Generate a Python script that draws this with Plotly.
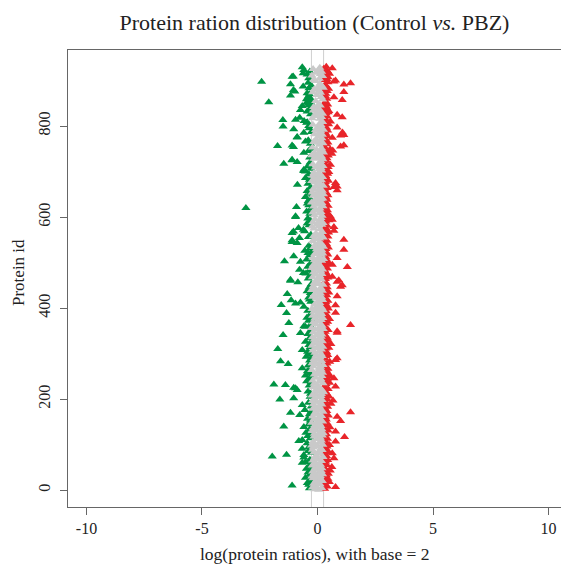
import plotly.graph_objects as go

# log2 protein ratios, protein ids 1..930 (read block by block from the reference)
log2_ratio = [
    0.05, -0.12, 0.31, -0.35, 0.18, -0.22, 0.78, 0.42, -0.08, -1.10, 0.36, -0.38, 0.11, -0.17, 0.29, -0.44, 0.02, 0.51, -0.29, 0.21, -0.06, 0.33, -0.31, 0.14, 0.45, -0.19, -0.52, 0.27, 0.09, -0.24,
    0.12, -0.07, 0.38, -0.33, 0.22, 0.47, -0.15, 0.04, -0.41, 0.30, -0.21, 0.16, 0.55, -0.28, -0.02, 0.34, -0.48, 0.19, -0.10, 0.28, 0.62, -0.36, 0.07, -0.23, 0.40, 0.13, -0.30, -0.14, 0.32, -0.66,
    -0.09, -0.52, 0.35, 0.17, -0.20, 0.44, -0.33, 0.03, 0.29, 0.71, -0.13, -0.59, 0.24, -1.96, 0.39, -0.05, -0.59, -1.34, 0.31, 0.10, 0.64, -0.27, -0.16, 0.48, 0.06, -0.40, 0.36, 0.20, -0.22, 0.28,
    -0.66, 0.14, 0.33, -0.18, -0.37, 0.41, 0.01, -0.26, 0.52, 0.23, -0.11, 0.30, -0.45, 0.08, 0.37, -0.20, 0.78, -0.81, 0.17, -0.66, 0.29, -0.04, 0.43, -0.31, 0.12, 0.35, 1.17, -0.15, -0.42, 0.21,
    0.06, -0.29, 0.39, -0.14, 0.25, -0.50, 0.32, 0.11, 0.78, -0.23, 0.46, -0.07, -0.34, 0.19, 0.31, -0.19, 0.03, 0.54, -0.59, -1.46, 0.15, 0.36, -0.10, -0.38, 0.28, 0.09, 0.42, -0.25, -0.02, 0.33,
    0.22, 1.00, -0.31, 0.13, 0.38, -0.16, -0.43, 0.27, 0.05, 0.34, 0.85, -0.21, 0.18, 0.47, -0.77, 0.02, -0.35, 0.30, -0.12, -1.17, 1.43, 0.24, -0.28, 0.40, -0.05, -0.55, 0.16, 0.33, -0.20, 0.09,
    0.31, -0.10, 0.44, -0.27, 0.07, 0.36, -0.66, 0.19, -0.18, 0.58, 0.29, -0.39, 0.12, -0.03, 0.35, -0.22, 0.67, 0.20, -1.63, 0.41, -0.13, -1.03, 0.28, 0.04, -0.32, 0.50, 0.15, -0.24, 0.37, -0.08,
    0.17, -0.30, 0.39, -0.12, 0.26, 0.05, -0.41, 0.33, 0.21, -0.88, -0.06, 0.46, 0.12, -0.95, -1.03, -0.19, 0.30, 0.78, 0.01, -0.36, -1.39, -1.89, 0.37, -0.15, 0.24, 0.52, -0.28, 0.08, -0.47, 0.34,
    -0.21, 0.32, -0.37, 0.14, 0.43, 0.71, -0.08, 0.27, 0.56, -0.29, 0.19, -0.52, 0.36, -0.14, 0.03, 0.48, -0.33, 0.22, -0.02, 0.31, -0.44, 0.10, 0.39, -0.25, 0.16, -0.31, 0.45, -0.66, 0.07, 0.29,
    0.13, -0.18, 0.35, -0.40, 0.24, 0.06, -1.27, 0.41, -0.23, 0.29, -0.09, 0.53, -1.60, 0.18, -0.34, 0.78, 0.00, -0.15, 0.32, 0.85, -0.27, 0.11, -0.49, 0.37, 0.20, -0.07, 0.44, -0.30, 0.15, -0.38,
    0.27, -0.11, 0.40, -0.43, 0.08, 0.33, -0.20, -0.66, 0.17, -1.72, 0.36, -0.04, 0.49, -0.32, 0.23, 0.02, -0.24, 0.30, -0.37, 0.12, 0.58, -0.16, 0.38, 0.05, -0.28, -0.52, 0.21, 0.34, -0.09, 0.45,
    -0.14, 0.31, 0.09, -0.35, 0.42, -0.22, 0.16, 0.37, -0.06, 0.28, -1.49, 0.19, -0.41, 0.04, -0.74, 0.85, -0.18, 0.33, 0.85, 0.11, -0.30, 0.46, -0.10, 0.25, 0.39, -0.26, 0.07, 0.32, -0.52, -0.59,
    0.20, -0.33, 1.43, 0.14, -0.08, 0.36, -1.24, 0.27, -0.19, 0.44, 0.01, -0.39, 0.31, 0.16, -0.27, 0.52, -0.12, 0.23, -0.46, 0.35, 0.06, 0.29, -0.21, 0.40, -0.03, -0.31, 0.18, 0.33, -1.34, 0.78,
    0.12, -0.17, 0.38, -0.42, 0.25, 0.04, 0.30, -0.24, 0.47, -0.09, 0.19, 0.34, -0.59, 0.07, 0.41, 0.78, -1.57, -0.13, 0.28, -0.95, 0.10, -0.74, 0.36, -0.29, 0.02, 0.45, -1.14, 0.22, -0.35, 0.31,
    -0.06, 0.33, -0.38, 0.18, -0.21, 0.85, 0.09, 0.40, -0.14, 0.27, -1.31, 0.13, -0.31, 0.49, -0.02, 0.35, -0.45, 0.21, 0.05, -0.26, 0.37, -0.11, 0.29, 0.15, -0.36, 0.42, 1.00, -0.19, 0.32, 1.07,
    0.24, -0.28, 0.08, 0.39, -0.15, 0.30, -0.85, 0.85, -0.04, -1.17, 0.92, -1.17, 0.17, 0.34, -0.40, 0.03, 0.45, -0.22, 0.64, 0.11, -0.33, 0.28, -0.08, 0.41, 0.19, -0.50, -0.61, 0.36, -0.17, 0.06,
    0.14, -0.36, 0.31, -0.78, 0.22, -0.10, 0.43, -0.25, 0.05, 1.29, -0.42, 0.27, 0.12, -0.19, 0.64, 0.37, -0.07, -0.30, 0.48, 0.01, 0.33, -0.74, -1.43, 0.18, -0.14, 0.40, -0.47, 0.26, 0.09, 0.85,
    -0.20, 0.35, 0.07, -1.03, 0.29, -0.34, 0.16, 0.44, -0.12, 0.23, -0.41, 0.38, 0.02, -0.27, 0.31, -0.55, 0.19, 1.14, -0.05, 0.36, 0.11, -0.31, 0.47, -0.16, 0.26, 0.04, -0.38, 0.33, -0.09, 0.40,
    0.18, 0.34, -0.88, 0.06, -1.10, 0.29, -0.22, 0.41, -1.10, 1.14, -0.13, 0.32, 0.09, -0.78, 0.25, -0.39, 0.45, -0.18, 0.02, 0.37, -0.29, 0.14, 0.30, -0.07, -1.10, 0.48, 0.21, -1.04, -0.56, 0.71,
    0.27, -0.61, 0.11, 0.39, -0.16, -0.82, 0.33, 0.71, -0.24, 0.05, 0.42, -0.36, 0.19, -0.03, 0.30, -0.45, 0.24, 0.08, -0.20, 0.36, 0.13, -0.31, 0.50, 0.64, -0.11, 0.28, -0.42, 0.15, 0.37, -0.95,
    0.56, -0.95, 0.20, -0.14, 0.49, 0.31, -0.33, 0.07, 0.38, -0.21, 0.15, -0.47, 0.27, 0.03, 0.43, -0.09, 0.32, -0.28, 0.11, -3.10, 0.36, -0.91, -0.17, 0.24, 0.46, -0.38, 0.09, 0.30, -0.05, -0.44,
    0.19, -0.26, 0.34, 0.05, -0.40, 0.28, -0.12, 0.41, 0.16, -0.33, 0.23, -0.02, 0.37, -0.52, 0.10, 0.30, -0.19, 0.45, -0.07, 0.26, -0.36, 0.13, 0.39, -0.23, 0.06, 0.33, -0.45, 0.21, 0.85, -0.15,
    0.31, -0.18, 0.08, 0.42, -0.30, 0.71, 0.85, -0.06, 0.25, 0.37, -0.87, 0.14, -0.41, 0.29, 0.78, -0.11, 0.34, 0.02, -0.25, 0.47, 0.17, -0.35, 0.09, 0.40, -0.14, -0.52, 0.32, 0.22, -0.04, 0.36,
    -0.21, 0.27, 0.12, -0.37, 0.44, 0.03, -0.15, 0.33, 0.49, -0.52, -0.60, 0.18, 0.39, -0.59, 0.07, -0.28, 0.30, 0.15, -0.09, 0.46, -0.43, 0.24, 0.01, 0.35, 0.56, -0.20, -1.46, 0.28, 0.10, -0.32,
    -0.88, 0.32, 0.14, 0.38, -1.10, -1.10, 0.23, -0.16, 0.41, 0.06, -0.34, 0.29, 0.18, -0.08, 0.47, -0.25, 0.35, 0.02, 0.62, -0.13, -0.59, 0.26, 0.11, 0.42, -0.39, 0.66, 0.20, -0.04, 0.55, -0.29,
    0.17, 0.33, -0.22, -1.04, 1.00, -1.73, -1.10, 1.14, 0.08, 0.39, -0.31, 0.24, 0.02, 0.45, -0.17, -0.52, 0.28, 0.12, -0.40, 0.36, -0.06, 0.30, 0.19, 0.64, -0.88, -0.88, 0.05, 0.41, 1.00, 1.14,
    0.21, -0.14, 0.37, 0.06, -0.59, 1.08, -0.27, 0.31, 0.13, 0.44, -0.09, 0.26, -1.03, 0.18, -0.36, 0.39, 0.85, 0.03, -1.49, -0.38, 0.29, 0.15, -0.20, 0.48, 0.09, 0.34, -0.47, -0.44, 0.22, 0.56,
    -0.58, 0.27, -1.50, -0.95, 0.35, 0.10, -0.23, -0.77, 1.07, 0.18, 0.42, -0.11, 0.31, 0.04, 0.85, -0.30, 0.22, 0.37, -0.06, 0.46, 0.14, -0.45, 0.49, -0.18, -0.74, 0.33, 0.08, -0.34, 0.40, -0.02,
    0.29, -0.17, 0.38, -0.66, 0.12, -0.36, 0.44, 0.05, -0.42, 0.31, -0.29, -2.11, -0.45, 0.35, -0.08, -0.33, 1.07, 0.22, -0.48, 0.40, -0.31, -0.38, 0.71, 0.16, -0.40, 0.34, -1.17, -0.03, 0.27, -0.35,
    0.36, -0.45, 0.13, -0.21, 1.14, -0.98, 0.42, 0.07, -1.04, 0.30, -0.14, 0.48, -0.37, 0.25, 0.02, 0.39, -0.62, 0.19, -0.27, 0.33, 1.14, -1.17, 0.10, 1.43, -0.40, 0.45, -2.42, 0.71, -0.09, 0.78,
    0.34, -0.16, 0.41, 0.08, -0.38, 0.29, 0.46, -1.10, -1.05, 0.22, -0.24, 0.37, -0.45, 0.12, 0.52, -0.62, -0.07, 0.31, 0.18, -0.33, 0.43, 0.04, -0.59, 0.35, -0.19, 0.27, 0.64, 0.10, -0.66, 0.38,
]
protein_id = list(range(1, len(log2_ratio) + 1))

cutoff = 0.263  # log2(1.2)
x_ticks = [-10, -5, 0, 5, 10]
x_tick_labels = ["-10", "-5", "0", "5", "10"]
y_ticks = [0, 200, 400, 600, 800]

col_down, col_up, col_mid = "#009444", "#E8252A", "#C9C9C9"

serif = "Liberation Serif, Times New Roman, serif"
axis_col = "#666666"
text_col = "#222222"

groups = [
    ("down", col_down, lambda v: v < -cutoff),
    ("up", col_up, lambda v: v > cutoff),
    ("unchanged", col_mid, lambda v: -cutoff <= v <= cutoff),
]

fig = go.Figure()
for name, col, keep in groups:
    xs = [v for v in log2_ratio if keep(v)]
    ys = [i for i, v in zip(protein_id, log2_ratio) if keep(v)]
    fig.add_trace(go.Scatter(
        x=xs, y=ys, mode="markers", name=name,
        marker=dict(symbol="triangle-up", size=8, color=col, line=dict(width=0)),
        hoverinfo="x+y", showlegend=False,
    ))

for c in (-cutoff, cutoff):
    fig.add_shape(type="line", xref="x", yref="paper", x0=c, x1=c, y0=0, y1=1,
                  line=dict(color="#CFCFCF", width=1), layer="below")

fig.update_layout(
    width=561, height=565,
    margin=dict(l=68, r=0, t=50, b=58),
    paper_bgcolor="white", plot_bgcolor="white",
    font=dict(family=serif, color=text_col),
    title=dict(text="Protein ration distribution (Control <i>vs.</i> PBZ)",
               x=0.5, xref="paper", xanchor="center",
               y=1 - 22 / 565, yref="container", yanchor="middle",
               font=dict(family=serif, size=22, color=text_col)),
    xaxis=dict(range=[-10.8, 10.54], tickvals=x_ticks, ticktext=x_tick_labels,
               ticks="outside", ticklen=7,
               tickcolor=axis_col, showline=True, linecolor=axis_col, linewidth=1,
               mirror=True, showgrid=False, zeroline=False,
               tickfont=dict(family=serif, size=16, color=text_col)),
    yaxis=dict(range=[-37, 967], tickvals=y_ticks, ticks="outside", ticklen=7,
               tickcolor=axis_col, showline=True, linecolor=axis_col, linewidth=1,
               showgrid=False, zeroline=False, tickangle=-90, ticklabelstandoff=4,
               tickfont=dict(family=serif, size=16, color=text_col)),
    annotations=[
        dict(text="log(protein ratios), with base = 2", xref="paper", yref="paper",
             x=0.5, y=-(554 - 507) / 457, xanchor="center", yanchor="middle",
             showarrow=False, font=dict(family=serif, size=17.5, color=text_col)),
        dict(text="Protein id", xref="paper", yref="paper",
             x=-(68 - 18) / 493, y=(507 - 273) / 457, xanchor="center", yanchor="middle",
             textangle=-90, showarrow=False,
             font=dict(family=serif, size=17, color=text_col)),
    ],
)

fig.write_html(
    "out.html",
    config={"displayModeBar": False},
    post_script="document.body.style.margin='0';document.documentElement.style.overflow='hidden';",
)
